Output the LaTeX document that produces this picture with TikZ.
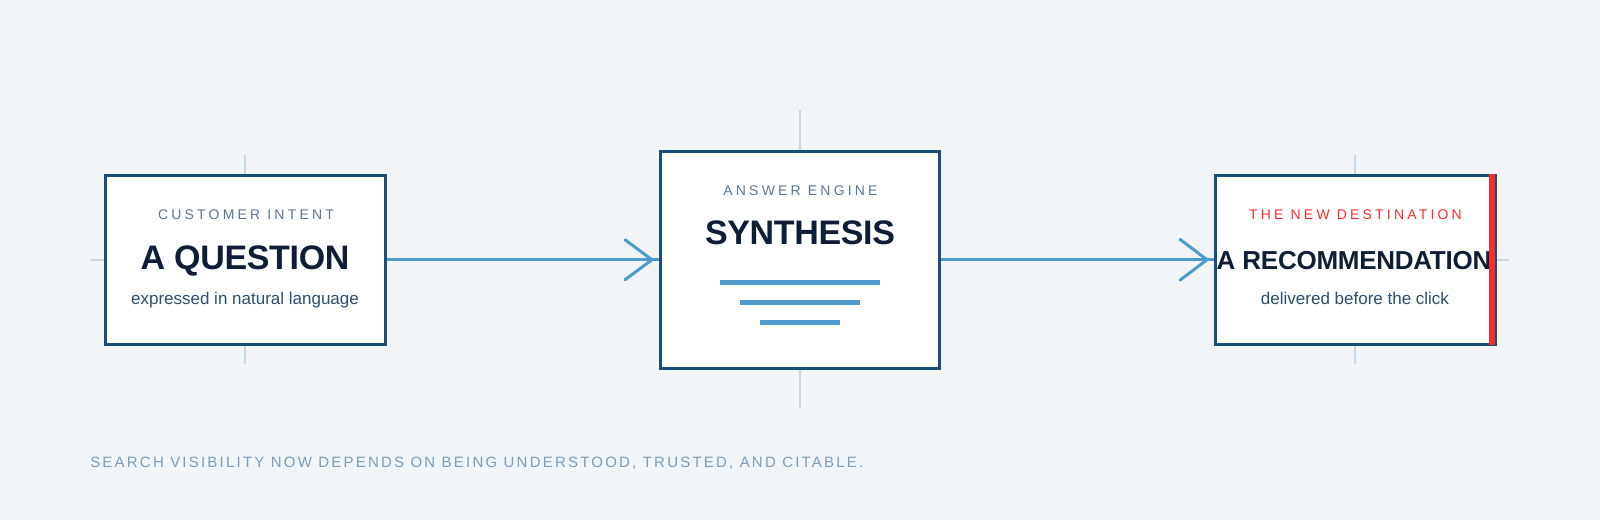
\documentclass[tikz,border=0pt]{standalone}
\usepackage{fontspec}
\setmainfont{Liberation Sans}
\usetikzlibrary{calc,backgrounds}
\definecolor{bgc}{HTML}{F1F5F8}
\definecolor{borderc}{HTML}{1B4F7A}
\definecolor{arrowc}{HTML}{4F9BC9}
\definecolor{tickc}{HTML}{C9DAE7}
\definecolor{labelc}{HTML}{5A7894}
\definecolor{titlec}{HTML}{0F1E36}
\definecolor{subc}{HTML}{2C4E6E}
\definecolor{redc}{HTML}{FF2B2B}
\definecolor{footc}{HTML}{7C9CB7}
\newcommand\lblfont{\fontsize{10.5pt}{12pt}\selectfont\addfontfeature{LetterSpace=22.8}}
\newcommand\footfont{\fontsize{11.25pt}{13pt}\selectfont\addfontfeature{LetterSpace=14.8}}
\newcommand\ttlfont{\fontsize{25.5pt}{30pt}\selectfont\bfseries\addfontfeature{LetterSpace=-1}}
\newcommand\recfont{\fontsize{19.5pt}{24pt}\selectfont\bfseries\addfontfeature{LetterSpace=-1}}
\newcommand\ls{\hspace{5.35pt}}
\newcommand\fs{\hspace{4.8pt}}
\begin{document}
\begin{tikzpicture}[x=0.75pt,y=-0.75pt,
  box/.style={draw=borderc,line width=2.25pt,fill=white,inner sep=0pt,outer sep=0pt},
  lbl/.style={anchor=base,inner sep=0pt,text=labelc,font=\lblfont},
  ttl/.style={anchor=base,inner sep=0pt,text=titlec,font=\ttlfont},
  sub/.style={anchor=base,inner sep=0pt,text=subc,font=\fontsize{12.75pt}{15pt}\selectfont},
  tickline/.style={draw=tickc,line width=1.5pt},
  conn/.style={draw=arrowc,line width=2.25pt},
  chev/.style={draw=arrowc,line width=2.25pt,line join=miter,line cap=round},
  bar/.style={draw=arrowc,line width=3.75pt}]
\useasboundingbox (0,0) rectangle (1600,520);
% boxes
\node[box,minimum width=210pt,minimum height=127.1pt] (b1) at (245,259.75) {};
\node[box,minimum width=209.25pt,minimum height=163.1pt] (b2) at (800,259.75) {};
\node[box,minimum width=210pt,minimum height=126.75pt] (b3) at (1355.2,259.75) {};
% background, crosshair ticks and connectors behind the boxes
\begin{scope}[on background layer]
\fill[bgc] (0,0) rectangle (1600,520);
\draw[tickline] ($(b1.north)+(0,-20)$) -- ($(b1.south)+(0,20)$);
\draw[tickline] ($(b1.west)+(-15,0)$) -- (b1.center);
\draw[tickline] ($(b2.north)+(0,-41)$) -- ($(b2.south)+(0,40.5)$);
\draw[tickline] ($(b3.north)+(0,-20)$) -- ($(b3.south)+(0,20)$);
\draw[tickline] (b3.center) -- ($(b3.east)+(14,0)$);
\draw[conn] (b1.east) -- (b2.west);
\draw[conn] (b2.east) -- (b3.west);
\end{scope}
\draw[chev] ($(b2.west)+(-35.5,-20)$) -- ($(b2.west)+(-8.5,0)$) -- ($(b2.west)+(-35.5,20)$);
\draw[chev] ($(b3.west)+(-35.2,-20.4)$) -- ($(b3.west)+(-8.2,0)$) -- ($(b3.west)+(-35.2,20.4)$);
% box 1 texts
\node[lbl] (l1) at (246,220) {CUSTOMER\ls INTENT};
\node[ttl] (t1) at (245,269.3) {A QUESTION};
\node[sub] (s1) at (245,305) {expressed in natural language};
% box 2 texts
\node[lbl] (l2) at (800.5,195.7) {ANSWER\ls ENGINE};
\node[ttl] (t2) at (800,245) {SYNTHESIS};
\draw[bar] ($(b2.center)+(-80,22.6)$) -- ($(b2.center)+(80,22.6)$);
\draw[bar] ($(b2.center)+(-60,42.6)$) -- ($(b2.center)+(60,42.6)$);
\draw[bar] ($(b2.center)+(-40,62.6)$) -- ($(b2.center)+(40,62.6)$);
% box 3 texts
\node[lbl,text=redc] (l3) at (1355.5,220) {THE\ls NEW\ls DESTINATION};
\node[ttl,font=\recfont] (t3) at (1354,269.3) {A RECOMMENDATION};
\node[sub] (s3) at (1355,305) {delivered before the click};
\fill[redc] ($(b3.north east)+(-6,-1.5)$) rectangle ($(b3.south east)+(0,1)$);
% footer
\node[anchor=base west,inner sep=0pt,text=footc,font=\footfont] (foot) at (90,467.7) {SEARCH\fs VISIBILITY\fs NOW\fs DEPENDS\fs ON\fs BEING\fs UNDERSTOOD,\fs TRUSTED,\fs AND\fs CITABLE.};
\end{tikzpicture}
\end{document}
